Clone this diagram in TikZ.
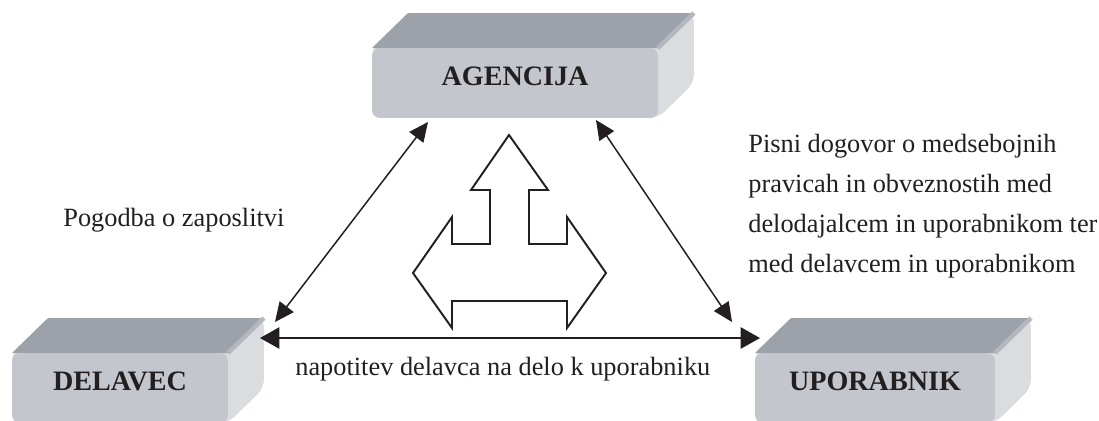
\documentclass[tikz,border=0pt]{standalone}
\usepackage{fontspec}
\setmainfont{Liberation Serif}
\usetikzlibrary{arrows.meta,backgrounds}
\definecolor{frontgray}{RGB}{195,199,205}
\definecolor{topgray}{RGB}{157,162,170}
\definecolor{sidegray}{RGB}{218,220,224}
\definecolor{ridgegray}{RGB}{180,184,190}
\definecolor{inkblack}{RGB}{35,31,32}
\def\slabdepth(#1){%
  \fill[sidegray, rounded corners=5pt] (#1.north west) -- ++(36,-35) -- ([shift={(36,-35)}]#1.north east) -- ([shift={(36,-35)}]#1.south east) -- (#1.south east) -- (#1.south west) -- cycle;
  \fill[topgray] (#1.north west) -- ++(36,-35) -- ([shift={(36,-35)}]#1.north east) -- (#1.north east) -- cycle;
  \draw[ridgegray, line width=2.5pt] (#1.north east) -- ++(36,-35);
}
\tikzset{
  slab/.style={rectangle, rounded corners=4.5pt, fill=frontgray, minimum height=1.4cm, inner sep=0pt, outer sep=0pt, text=inkblack, font=\fontsize{16}{19}\selectfont\bfseries, text height=10.6pt, text depth=7.4pt},
  note/.style={inner sep=0pt, text=inkblack, font=\fontsize{15}{18}\selectfont},
  link/.style={inkblack, line width=0.85pt, >={Triangle[length=11pt,width=10pt]}, <->},
  hlink/.style={link, line width=1.3pt, >={Triangle[length=11pt,width=12pt]}},
  fork/.style={draw=inkblack, line width=1.1pt, fill=white, line join=miter}
}

\begin{document}
\begin{tikzpicture}[x=0.02cm, y=-0.02cm]
	%%%%% START %%%%%
	\useasboundingbox (0,0) rectangle (1099,420);
	\clip (0,0) rectangle (1099,420);
	
	\node[slab, minimum width=5.72cm] (agencija) at (515, 83) {AGENCIJA};
	\node[slab, minimum width=4.32cm] (delavec) at (120, 388) {DELAVEC};
	\node[slab, minimum width=4.80cm] (uporabnik) at (875, 388) {UPORABNIK};
	
	\begin{pgfonlayer}{background}
		\clip (0,0) rectangle (1099,420);
		\foreach \b in {agencija,delavec,uporabnik} {\slabdepth(\b)}
	\end{pgfonlayer}
	
	\draw[link] ([shift={(47,-31)}]delavec.north east) -- ([shift={(56,4)}]agencija.south west);
	\draw[link] ([shift={(-62,2)}]agencija.south east) -- ([shift={(-23,-31)}]uporabnik.north west);
	\draw[hlink] ([shift={(32,-15)}]delavec.north east) -- ([shift={(5,-15)}]uporabnik.north west);
	
	\draw[fork] (509,135) -- (548,190) -- (529,190) -- (529,244) -- (567,244) -- (567,217)
		-- (606,273) -- (567,328) -- (567,301) -- (452,301) -- (452,328) -- (413,273)
		-- (452,217) -- (452,244) -- (490,244) -- (490,190) -- (471,190) -- cycle;
	
	\node[note, anchor=base west] (pogodba) at (63, 226) {Pogodba o zaposlitvi};
	\node[note, anchor=base west] (napotitev) at (295, 375) {napotitev delavca na delo k uporabniku};
	
	\foreach \txt [count=\i] in {Pisni dogovor o medsebojnih, pravicah in obveznostih med,
		delodajalcem in uporabnikom ter, med delavcem in uporabnikom}
		\node[note, anchor=base west] (pisni\i) at (748, 112+40*\i) {\txt};
	
	%%%%% END %%%%%
\end{tikzpicture}
\end{document}
